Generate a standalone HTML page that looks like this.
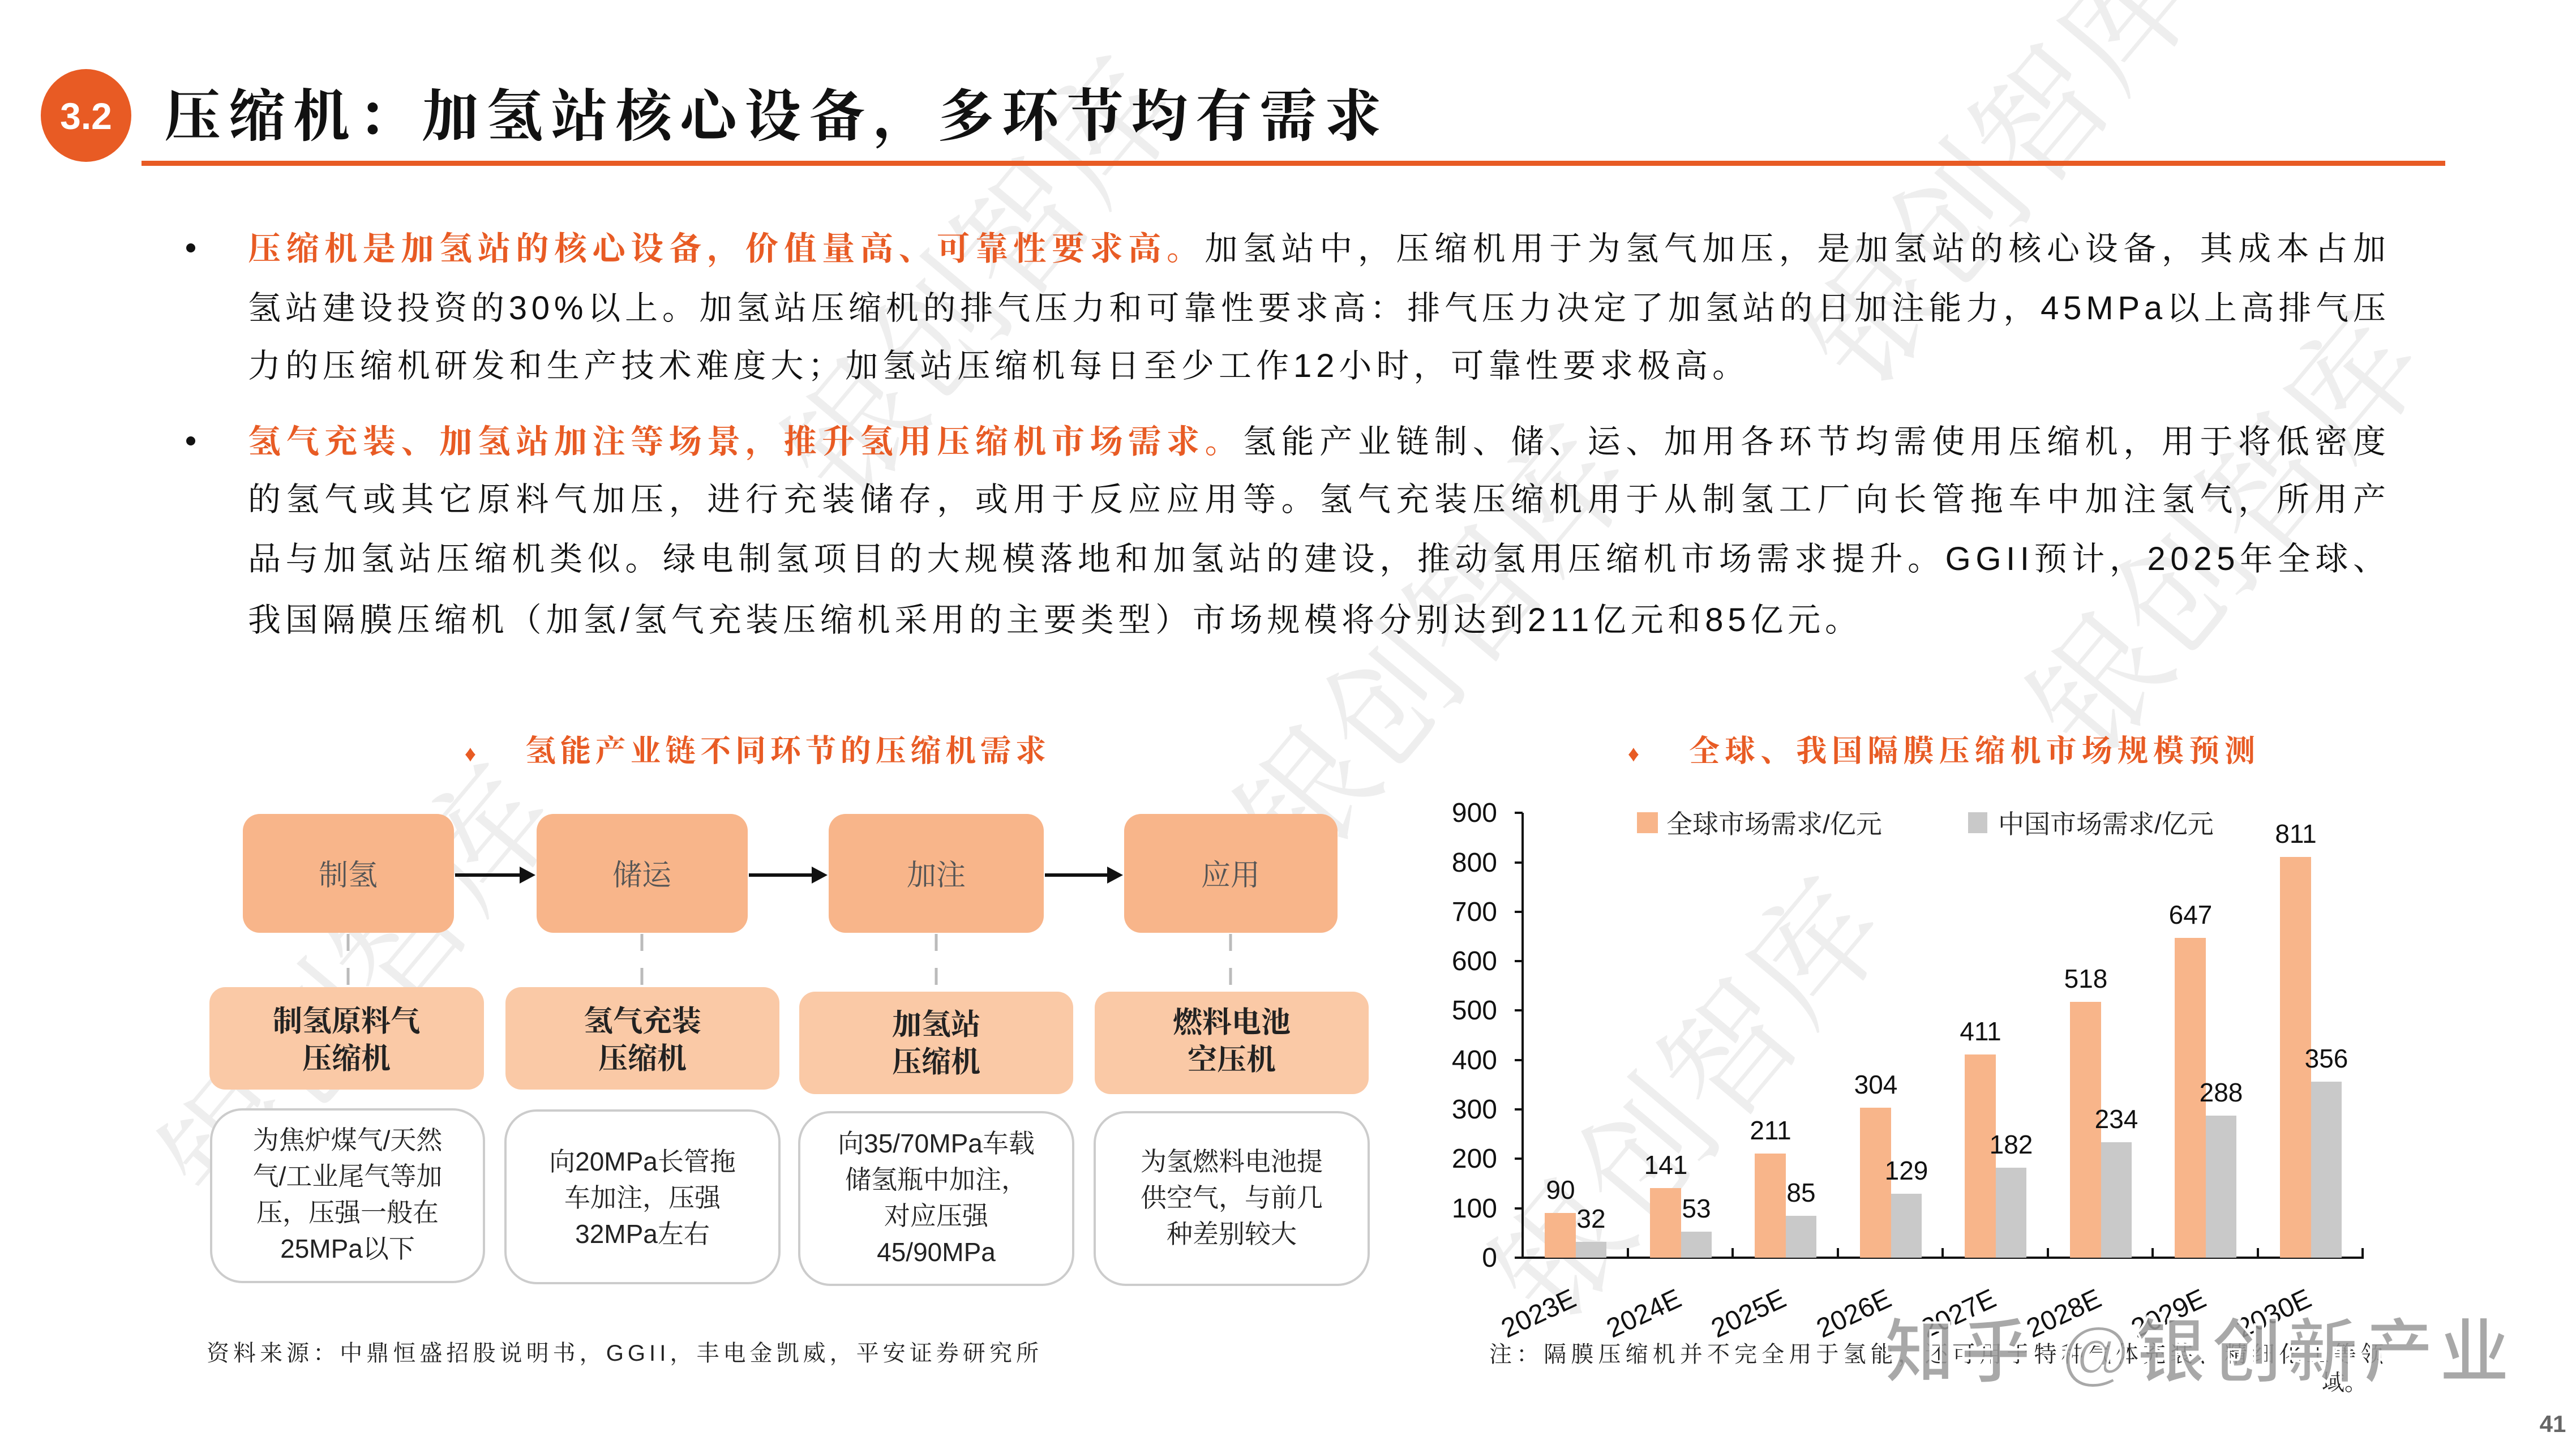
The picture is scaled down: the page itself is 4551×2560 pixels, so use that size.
<!DOCTYPE html>
<html><head><meta charset="utf-8"><style>
html,body{margin:0;padding:0;background:#fff;width:4551px;height:2560px;overflow:hidden;}
svg{display:block;}
</style></head><body>
<svg width="4551" height="2560" viewBox="0 0 4551 2560" xmlns="http://www.w3.org/2000/svg" font-family="'Liberation Sans','Noto Serif CJK SC',serif" overflow="hidden">
<g fill="#eeeeee" font-family="'Noto Serif CJK SC',serif" font-size="230">
<text transform="translate(1500,900) rotate(-50)">银创智库</text>
<text transform="translate(3300,700) rotate(-50)">银创智库</text>
<text transform="translate(3700,1350) rotate(-50)">银创智库</text>
<text transform="translate(2300,1550) rotate(-50)">银创智库</text>
<text transform="translate(400,2150) rotate(-50)">银创智库</text>
<text transform="translate(2750,2350) rotate(-50)">银创智库</text>
</g>
<!-- header -->
<ellipse cx="152" cy="204" rx="80" ry="82" fill="#E85B24"/>
<text x="152" y="228" text-anchor="middle" fill="#fff" font-size="66" font-weight="bold">3.2</text>
<text x="290" y="240" font-size="100" font-weight="bold" fill="#111" font-family="'Noto Serif CJK SC',serif" textLength="2150" lengthAdjust="spacing">压缩机：加氢站核心设备，多环节均有需求</text>
<rect x="250" y="284" width="4070" height="9" fill="#E85B24"/>
<!-- bullets -->
<g font-size="58" fill="#111" font-family="'Liberation Sans','Noto Serif CJK SC',serif">
<circle cx="337" cy="438" r="8" fill="#111"/>
<circle cx="337" cy="779" r="8" fill="#111"/>
<text x="438" y="459" textLength="3777" lengthAdjust="spacing"><tspan fill="#E85B24" font-weight="bold">压缩机是加氢站的核心设备，价值量高、可靠性要求高。</tspan>加氢站中，压缩机用于为氢气加压，是加氢站的核心设备，其成本占加</text>
<text x="438" y="564" textLength="3777" lengthAdjust="spacing">氢站建设投资的30%以上。加氢站压缩机的排气压力和可靠性要求高：排气压力决定了加氢站的日加注能力，45MPa以上高排气压</text>
<text x="438" y="666" textLength="2645" lengthAdjust="spacing">力的压缩机研发和生产技术难度大；加氢站压缩机每日至少工作12小时，可靠性要求极高。</text>
<text x="438" y="800" textLength="3777" lengthAdjust="spacing"><tspan fill="#E85B24" font-weight="bold">氢气充装、加氢站加注等场景，推升氢用压缩机市场需求。</tspan>氢能产业链制、储、运、加用各环节均需使用压缩机，用于将低密度</text>
<text x="438" y="902" textLength="3777" lengthAdjust="spacing">的氢气或其它原料气加压，进行充装储存，或用于反应应用等。氢气充装压缩机用于从制氢工厂向长管拖车中加注氢气，所用产</text>
<text x="438" y="1007" textLength="3777" lengthAdjust="spacing">品与加氢站压缩机类似。绿电制氢项目的大规模落地和加氢站的建设，推动氢用压缩机市场需求提升。GGII预计，2025年全球、</text>
<text x="438" y="1115" textLength="2844" lengthAdjust="spacing">我国隔膜压缩机（加氢/氢气充装压缩机采用的主要类型）市场规模将分别达到211亿元和85亿元。</text>
</g>
<!-- left diagram -->
<text x="831" y="1345" font-size="40" fill="#E85B24" text-anchor="middle">♦</text>
<text x="928" y="1345" font-size="54" fill="#E85B24" font-weight="bold" font-family="'Noto Serif CJK SC',serif" textLength="920" lengthAdjust="spacing">氢能产业链不同环节的压缩机需求</text>
<g fill="#F8B58A">
<rect x="429" y="1438" width="373" height="210" rx="30"/>
<rect x="948" y="1438" width="373" height="210" rx="30"/>
<rect x="1464" y="1438" width="380" height="210" rx="30"/>
<rect x="1986" y="1438" width="377" height="210" rx="30"/>
</g>
<g font-size="52" fill="#555" text-anchor="middle" font-family="'Noto Serif CJK SC',serif">
<text x="615" y="1564">制氢</text><text x="1134" y="1564">储运</text><text x="1654" y="1564">加注</text><text x="2174" y="1564">应用</text>
</g>
<g stroke="#111" stroke-width="6"><line x1="804" y1="1546" x2="920" y2="1546"/><line x1="1323" y1="1546" x2="1436" y2="1546"/><line x1="1846" y1="1546" x2="1958" y2="1546"/></g>
<g fill="#111"><polygon points="946,1546 918,1531 918,1561"/><polygon points="1462,1546 1434,1531 1434,1561"/><polygon points="1984,1546 1956,1531 1956,1561"/></g>
<g stroke="#bbb" stroke-width="5" stroke-dasharray="30,30"><line x1="615" y1="1650" x2="615" y2="1740"/><line x1="1134" y1="1650" x2="1134" y2="1740"/><line x1="1654" y1="1650" x2="1654" y2="1740"/><line x1="2174" y1="1650" x2="2174" y2="1740"/></g>
<g fill="#FAC9A6">
<rect x="370" y="1744" width="485" height="181" rx="28"/>
<rect x="893" y="1744" width="484" height="181" rx="28"/>
<rect x="1412" y="1752" width="484" height="181" rx="28"/>
<rect x="1934" y="1752" width="484" height="181" rx="28"/>
</g>
<g font-size="52" fill="#222" font-weight="bold" text-anchor="middle" font-family="'Noto Serif CJK SC',serif">
<text x="612" y="1822">制氢原料气</text><text x="612" y="1888">压缩机</text>
<text x="1135" y="1822">氢气充装</text><text x="1135" y="1888">压缩机</text>
<text x="1654" y="1828">加氢站</text><text x="1654" y="1894">压缩机</text>
<text x="2176" y="1824">燃料电池</text><text x="2176" y="1890">空压机</text>
</g>
<g fill="#fff" stroke="#ccc" stroke-width="4">
<rect x="373" y="1960" width="482" height="305" rx="55"/>
<rect x="893" y="1962" width="484" height="305" rx="55"/>
<rect x="1412" y="1965" width="484" height="305" rx="55"/>
<rect x="1934" y="1965" width="484" height="305" rx="55"/>
</g>
<g font-size="46" fill="#222" text-anchor="middle" font-family="'Liberation Sans','Noto Serif CJK SC',serif">
<text x="614" y="2030">为焦炉煤气/天然</text><text x="614" y="2094">气/工业尾气等加</text><text x="614" y="2158">压，压强一般在</text><text x="614" y="2222">25MPa以下</text>
<text x="1135" y="2068">向20MPa长管拖</text><text x="1135" y="2132">车加注，压强</text><text x="1135" y="2196">32MPa左右</text>
<text x="1654" y="2036">向35/70MPa车载</text><text x="1654" y="2100">储氢瓶中加注，</text><text x="1654" y="2164">对应压强</text><text x="1654" y="2228">45/90MPa</text>
<text x="2176" y="2068">为氢燃料电池提</text><text x="2176" y="2132">供空气，与前几</text><text x="2176" y="2196">种差别较大</text>
</g>
<text x="365" y="2404" font-size="40" fill="#222" font-family="'Liberation Sans','Noto Serif CJK SC',serif" textLength="1470" lengthAdjust="spacing">资料来源：中鼎恒盛招股说明书，GGII，丰电金凯威，平安证券研究所</text>
<!-- chart -->
<text x="2886" y="1345" font-size="40" fill="#E85B24" text-anchor="middle">♦</text>
<text x="2984" y="1345" font-size="54" fill="#E85B24" font-weight="bold" font-family="'Noto Serif CJK SC',serif" textLength="1000" lengthAdjust="spacing">全球、我国隔膜压缩机市场规模预测</text>
<g font-size="48" fill="#111" text-anchor="end">
<text x="2645" y="2238">0</text><text x="2645" y="2151">100</text><text x="2645" y="2063">200</text><text x="2645" y="1976">300</text><text x="2645" y="1889">400</text><text x="2645" y="1801">500</text><text x="2645" y="1714">600</text><text x="2645" y="1627">700</text><text x="2645" y="1540">800</text><text x="2645" y="1452">900</text>
</g>
<g stroke="#111" stroke-width="4">
<line x1="2690" y1="1436" x2="2690" y2="2222"/>
<line x1="2690" y1="2222" x2="4176" y2="2222"/>
<line x1="2676" y1="2222" x2="2690" y2="2222"/><line x1="2676" y1="2135" x2="2690" y2="2135"/><line x1="2676" y1="2047" x2="2690" y2="2047"/><line x1="2676" y1="1960" x2="2690" y2="1960"/><line x1="2676" y1="1873" x2="2690" y2="1873"/><line x1="2676" y1="1785" x2="2690" y2="1785"/><line x1="2676" y1="1698" x2="2690" y2="1698"/><line x1="2676" y1="1611" x2="2690" y2="1611"/><line x1="2676" y1="1524" x2="2690" y2="1524"/><line x1="2676" y1="1436" x2="2690" y2="1436"/>
<line x1="2876" y1="2222" x2="2876" y2="2205"/><line x1="3061" y1="2222" x2="3061" y2="2205"/><line x1="3247" y1="2222" x2="3247" y2="2205"/><line x1="3432" y1="2222" x2="3432" y2="2205"/><line x1="3618" y1="2222" x2="3618" y2="2205"/><line x1="3803" y1="2222" x2="3803" y2="2205"/><line x1="3989" y1="2222" x2="3989" y2="2205"/><line x1="4174" y1="2222" x2="4174" y2="2205"/>
</g>
<g fill="#F8B58A">
<rect x="2729" y="2143" width="55" height="79"/>
<rect x="2915" y="2099" width="55" height="123"/>
<rect x="3100" y="2038" width="55" height="184"/>
<rect x="3286" y="1957" width="55" height="265"/>
<rect x="3471" y="1863" width="55" height="359"/>
<rect x="3657" y="1770" width="55" height="452"/>
<rect x="3842" y="1657" width="55" height="565"/>
<rect x="4028" y="1514" width="55" height="708"/>
</g>
<g fill="#C9C9C9">
<rect x="2784" y="2194" width="54" height="28"/>
<rect x="2970" y="2176" width="54" height="46"/>
<rect x="3155" y="2148" width="54" height="74"/>
<rect x="3341" y="2109" width="54" height="113"/>
<rect x="3526" y="2063" width="54" height="159"/>
<rect x="3712" y="2018" width="54" height="204"/>
<rect x="3897" y="1971" width="54" height="251"/>
<rect x="4083" y="1911" width="54" height="311"/>
</g>
<g font-size="46" fill="#111" text-anchor="middle">
<text x="2757" y="2118">90</text><text x="2811" y="2169">32</text>
<text x="2943" y="2074">141</text><text x="2997" y="2151">53</text>
<text x="3128" y="2013">211</text><text x="3182" y="2123">85</text>
<text x="3314" y="1932">304</text><text x="3368" y="2084">129</text>
<text x="3499" y="1838">411</text><text x="3553" y="2038">182</text>
<text x="3685" y="1745">518</text><text x="3739" y="1993">234</text>
<text x="3870" y="1632">647</text><text x="3924" y="1946">288</text>
<text x="4056" y="1489">811</text><text x="4110" y="1886">356</text>
</g>
<g font-size="48" fill="#111" text-anchor="middle">
<text transform="translate(2725,2335) rotate(-25)">2023E</text>
<text transform="translate(2911,2335) rotate(-25)">2024E</text>
<text transform="translate(3096,2335) rotate(-25)">2025E</text>
<text transform="translate(3282,2335) rotate(-25)">2026E</text>
<text transform="translate(3467,2335) rotate(-25)">2027E</text>
<text transform="translate(3653,2335) rotate(-25)">2028E</text>
<text transform="translate(3838,2335) rotate(-25)">2029E</text>
<text transform="translate(4024,2335) rotate(-25)">2030E</text>
</g>
<rect x="2892" y="1435" width="37" height="37" fill="#F8B58A"/>
<text x="2944" y="1472" font-size="46" fill="#222" font-family="'Liberation Sans','Noto Serif CJK SC',serif">全球市场需求/亿元</text>
<rect x="3477" y="1435" width="34" height="37" fill="#C9C9C9"/>
<text x="3530" y="1472" font-size="46" fill="#222" font-family="'Liberation Sans','Noto Serif CJK SC',serif">中国市场需求/亿元</text>
<text x="2631" y="2406" font-size="40" fill="#222" font-family="'Liberation Sans','Noto Serif CJK SC',serif" textLength="1580" lengthAdjust="spacing">注：隔膜压缩机并不完全用于氢能，还可用于特种气体充装、精细化工等领</text>
<text x="4102" y="2456" font-size="40" fill="#222" font-family="'Liberation Sans','Noto Serif CJK SC',serif">域。</text>
<text x="3329" y="2432" font-size="125" fill="#999" fill-opacity="0.85" stroke="#fff" stroke-width="4" font-weight="bold" font-family="'Liberation Sans','Noto Sans CJK SC',sans-serif" textLength="1105" lengthAdjust="spacing">知乎 @银创新产业</text>
<text x="4510" y="2530" font-size="42" fill="#666" font-weight="bold" text-anchor="middle">41</text>
</svg>
</body></html>
